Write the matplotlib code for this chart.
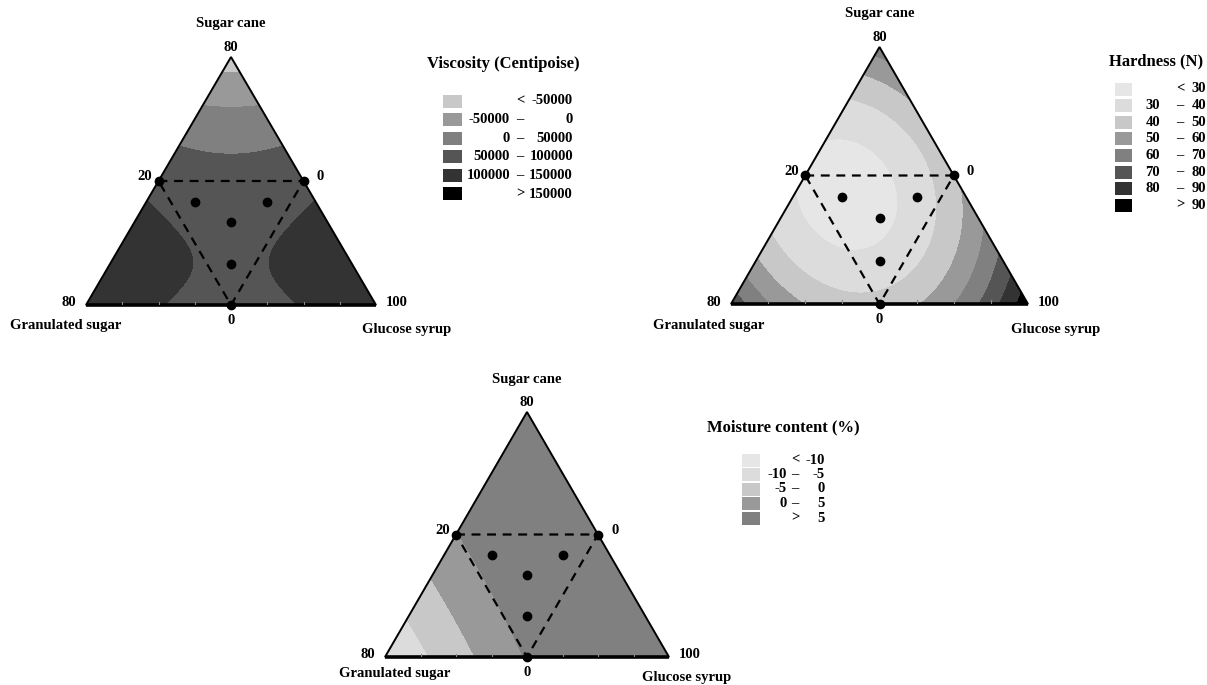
import numpy as np
import matplotlib
matplotlib.use("Agg")
import matplotlib.pyplot as plt
from matplotlib.patches import Polygon, Rectangle

W, H = 1207, 685
plt.rcParams["font.family"] = ["Liberation Serif", "DejaVu Serif"]
plt.rcParams["font.weight"] = "bold"

# design points in pseudo-components (sugar cane, granulated sugar, glucose syrup)
design_a = [1/2, 1/2, 0, 1/3, 5/12, 5/12, 1/6]
design_b = [1/2, 0, 1/2, 1/3, 5/12, 1/6, 5/12]
design_c = [0, 1/2, 1/2, 1/3, 1/6, 5/12, 5/12]

# special cubic Scheffe coefficients estimated from the contours:
# b1 b2 b3 b12 b13 b23 b123
visc_coef = [-75000, 137000, 137000, 213600, 213600, -188000, -75000]
hard_coef = [65, 77, 97, -170, -132, -172, 20]
moist_coef = [15.25, -10, 18.58, 8.58, -4, 4.35, 0]

visc_levels = [-50000, 0, 50000, 100000, 150000]
hard_levels = [30, 40, 50, 60, 70, 80, 90]
moist_levels = [-10, -5, 0, 5]

visc_colors = ["#c8c8c8", "#999999", "#808080", "#555555", "#333333", "#000000"]
hard_colors = ["#e6e6e6", "#dcdcdc", "#c8c8c8", "#999999", "#808080",
               "#555555", "#333333", "#000000"]
moist_colors = ["#e6e6e6", "#dcdcdc", "#c8c8c8", "#999999", "#808080"]

titles = ["Viscosity (Centipoise)", "Hardness (N)", "Moisture content (%)"]

# axis texts
top_name, left_name, right_name = "Sugar cane", "Granulated sugar", "Glucose syrup"
apex_tick, leftmid_tick, rightmid_tick = "80", "20", "0"
left_tick, right_tick, basemid_tick = "80", "100", "0"

h = np.sqrt(3) / 2


def scheffe(coef, a, b, c):
    b1, b2, b3, b12, b13, b23, b123 = coef
    return (b1 * a + b2 * b + b3 * c + b12 * a * b + b13 * a * c
            + b23 * b * c + b123 * a * b * c)


def to_xy(a, b, c):
    a, c = np.asarray(a), np.asarray(c)
    return c + a / 2, a * h


def fpx(x, y):
    return x / W, 1 - y / H


def draw_panel(fig, tri_px, coef, levels, colors, name_dx, name_dy):
    left, right, base, apex = tri_px
    ax = fig.add_axes([left / W, (H - base) / H, (right - left) / W,
                       (base - apex) / H])
    ax.set_xlim(0, 1)
    ax.set_ylim(0, h)
    ax.axis("off")

    gx, gy = np.meshgrid(np.linspace(-0.02, 1.02, 500), np.linspace(-0.02, h + 0.02, 450))
    a = gy / h
    c = gx - a / 2
    b = 1 - a - c
    z = scheffe(coef, a, b, c)
    cs = ax.contourf(gx, gy, z, levels=[-1e12] + list(levels) + [1e12], colors=colors)
    verts = [(0, 0), (1, 0), (0.5, h)]
    cs.set_clip_path(Polygon(verts, closed=True, transform=ax.transData))

    ax.add_patch(Polygon(verts, closed=True, fill=False, edgecolor="black",
                         lw=1.4, clip_on=False, zorder=3))
    ax.plot([0, 1], [0, 0], color="black", lw=2.6, clip_on=False, zorder=4,
            solid_capstyle="butt")
    for t in np.arange(1, 8) / 8:
        ax.plot([t, t], [0, 0.012], color="0.55", lw=0.8, zorder=4)

    # dashed design region
    mx, my = to_xy([0.5, 0.5, 0, 0.5], [0.5, 0, 0.5, 0.5], [0, 0.5, 0.5, 0])
    ax.plot(mx, my, color="black", lw=1.6, ls=(0, (4, 3)), zorder=5, clip_on=False)
    px, py = to_xy(design_a, design_b, design_c)
    ax.scatter(px, py, s=36, color="black", zorder=6, clip_on=False)

    def lab(xy, s, dx, dy, ha="center", va="center"):
        ax.annotate(s, xy=xy, xytext=(dx, dy), textcoords="offset pixels",
                    ha=ha, va=va, fontsize=10.5, fontweight="bold",
                    annotation_clip=False)

    lab((0.5, h), top_name, 0, 33)
    lab((0.5, h), apex_tick, 0, 3, va="bottom")
    lab((0.25, h / 2), leftmid_tick, -6, 4, ha="right")
    lab((0.75, h / 2), rightmid_tick, 13, 4, ha="left")
    lab((0, 0), left_tick, -10, 2, ha="right")
    lab((1, 0), right_tick, 10, 2, ha="left")
    lab((0.5, 0), basemid_tick, 0, -9, va="top")
    lab((0, 0), left_name, name_dx[0], name_dy)
    lab((1, 0), right_name, name_dx[1], name_dy - 4)
    return ax


def draw_legend(fig, title, levels, colors, lay):
    tx, ty, px0, pw, ph, y0, dy, xl, xd, xr = lay
    fig.text(*fpx(tx, ty), title, ha="left", va="center", fontsize=12,
             fontweight="bold")
    n = len(colors)
    fs = 10.5
    for i, col in enumerate(colors):
        y = y0 + i * dy
        fig.add_artist(Rectangle(fpx(px0, y + ph / 2), pw / W, ph / H,
                                 transform=fig.transFigure, facecolor=col,
                                 edgecolor="none"))
        if i == 0:
            fig.text(*fpx(xd, y), "<", ha="center", va="center", fontsize=fs)
            fig.text(*fpx(xr, y), str(levels[0]), ha="right", va="center", fontsize=fs)
        elif i == n - 1:
            fig.text(*fpx(xd, y), ">", ha="center", va="center", fontsize=fs)
            fig.text(*fpx(xr, y), str(levels[-1]), ha="right", va="center", fontsize=fs)
        else:
            fig.text(*fpx(xl, y), str(levels[i - 1]), ha="right", va="center", fontsize=fs)
            fig.text(*fpx(xd, y), "\u2013", ha="center", va="center", fontsize=fs)
            fig.text(*fpx(xr, y), str(levels[i]), ha="right", va="center", fontsize=fs)


fig = plt.figure(figsize=(W / 100, H / 100), dpi=100)

draw_panel(fig, (86, 376, 305, 57), visc_coef, visc_levels, visc_colors, (-20, 31), -21)
draw_panel(fig, (731, 1028, 304, 47), hard_coef, hard_levels, hard_colors, (-22, 28), -22)
draw_panel(fig, (385, 669, 657, 412), moist_coef, moist_levels, moist_colors, (10, 18), -17)

draw_legend(fig, titles[0], visc_levels, visc_colors,
            (427, 64, 443, 19, 13, 101, 18.6, 510, 520, 573))
draw_legend(fig, titles[1], hard_levels, hard_colors,
            (1109, 61, 1115, 17, 13, 89, 16.6, 1160, 1180, 1206))
draw_legend(fig, titles[2], moist_levels, moist_colors,
            (707, 427, 742, 18, 13, 460, 14.5, 787, 795, 825))

fig.savefig("out.png", dpi=100)
